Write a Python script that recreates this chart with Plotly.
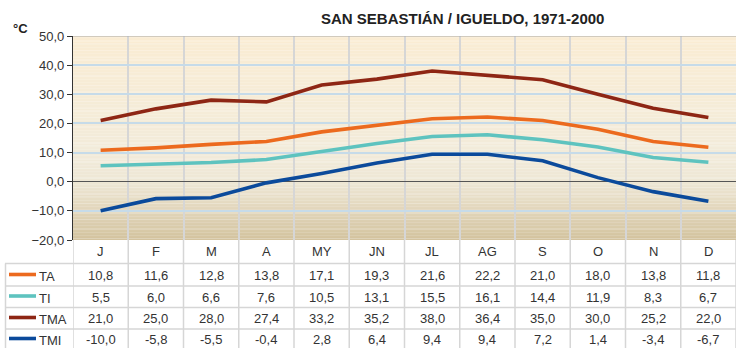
import plotly.graph_objects as go

# Monthly climatology, San Sebastián / Igueldo 1971-2000
months = ["J", "F", "M", "A", "MY", "JN", "JL", "AG", "S", "O", "N", "D"]
ta = [10.8, 11.6, 12.8, 13.8, 17.1, 19.3, 21.6, 22.2, 21.0, 18.0, 13.8, 11.8]
ti = [5.5, 6.0, 6.6, 7.6, 10.5, 13.1, 15.5, 16.1, 14.4, 11.9, 8.3, 6.7]
tma = [21.0, 25.0, 28.0, 27.4, 33.2, 35.2, 38.0, 36.4, 35.0, 30.0, 25.2, 22.0]
tmi = [-10.0, -5.8, -5.5, -0.4, 2.8, 6.4, 9.4, 9.4, 7.2, 1.4, -3.4, -6.7]

series_names = ["TA", "TI", "TMA", "TMI"]
series_values = [ta, ti, tma, tmi]
series_colors = ["#EC6A1E", "#5EC3BF", "#8E2614", "#0B4A9B"]

y_ticks = [-20, -10, 0, 10, 20, 30, 40, 50]

# pixel geometry of the page
W, H = 736, 348
ML, MR, MT, MB = 73, 0, 36, 108
PW, PH = W - ML - MR, H - MT - MB


def px_x(p):
    return (p - ML) / PW


def px_y(p):
    return (MT + PH - p) / PH


def fmt(v):
    return f"{v:.1f}".replace(".", ",")


x = list(range(len(months)))
fig = go.Figure()

for name, vals, col in zip(series_names, series_values, series_colors):
    fig.add_trace(go.Scatter(
        x=x, y=vals, mode="lines", name=name,
        line=dict(color=col, width=3.6),
        showlegend=False, hoverinfo="skip",
    ))

shapes = []

# vertical gradient behind the plot area
grad_stops = [(-20, (211, 195, 158)), (-10, (225, 213, 186)), (0, (238, 231, 213)),
              (10, (242, 235, 218)), (30, (246, 236, 215)), (50, (250, 236, 211))]


def grad_color(v):
    for (a, ca), (b, cb) in zip(grad_stops[:-1], grad_stops[1:]):
        if a <= v <= b:
            t = (v - a) / (b - a)
            c = [round(ca[i] + (cb[i] - ca[i]) * t) for i in range(3)]
            return f"rgb({c[0]},{c[1]},{c[2]})"
    return "rgb(250,236,211)"


step = 0.5
n_bands = int(70 / step)
for i in range(n_bands):
    y0 = -20 + i * step
    shapes.append(dict(type="rect", xref="paper", yref="y", x0=0, x1=1,
                       y0=y0, y1=y0 + step + 0.05, layer="below",
                       fillcolor=grad_color(y0 + step / 2), line=dict(width=0)))

# top border of the plot
shapes.append(dict(type="line", xref="paper", yref="y", x0=0, x1=1, y0=50, y1=50,
                   line=dict(color="#A8A8A8", width=1.2), layer="above"))

grid_gray = "#D6D6D6"
# table: vertical separators continue below the plot
for k in range(len(months) + 1):
    shapes.append(dict(type="line", xref="x", yref="paper", x0=k - 0.5, x1=k - 0.5,
                       y0=0, y1=px_y(352), line=dict(color=grid_gray, width=1.5)))
# table: row separators
row_lines = [263.5, 286, 307.5, 329]
for ly in row_lines:
    shapes.append(dict(type="line", xref="paper", yref="paper", x0=px_x(5), x1=1,
                       y0=px_y(ly), y1=px_y(ly), line=dict(color=grid_gray, width=1.5)))
# table: left border of the label column
shapes.append(dict(type="line", xref="paper", yref="paper", x0=px_x(5.5), x1=px_x(5.5),
                   y0=px_y(263.5), y1=px_y(352), line=dict(color=grid_gray, width=1.5)))

annotations = []
font_txt = dict(family="Liberation Sans, Arial, sans-serif", size=13, color="#333333")

# month header row
for k, m in enumerate(months):
    annotations.append(dict(x=k, y=px_y(251), xref="x", yref="paper", text=m,
                            showarrow=False, font=font_txt, xanchor="center", yanchor="middle"))

row_centers = [275.5, 297, 318.5, 339.5]
for name, vals, col, cy in zip(series_names, series_values, series_colors, row_centers):
    # legend key
    shapes.append(dict(type="line", xref="paper", yref="paper", x0=px_x(9), x1=px_x(36),
                       y0=px_y(cy - 1), y1=px_y(cy - 1), line=dict(color=col, width=3.6)))
    annotations.append(dict(x=px_x(37), y=px_y(cy + 1), xref="paper", yref="paper", text=name,
                            showarrow=False, font=font_txt, xanchor="left", yanchor="middle"))
    for k, v in enumerate(vals):
        annotations.append(dict(x=k, y=px_y(cy), xref="x", yref="paper", text=fmt(v),
                                showarrow=False, font=font_txt, xanchor="center", yanchor="middle"))

# title and unit
annotations.append(dict(x=px_x(462), y=px_y(18), xref="paper", yref="paper",
                        text="<b>SAN SEBASTIÁN / IGUELDO, 1971-2000</b>", showarrow=False,
                        font=dict(family="Liberation Sans, Arial, sans-serif", size=15, color="#222222"),
                        xanchor="center", yanchor="middle"))
annotations.append(dict(x=px_x(11), y=px_y(29), xref="paper", yref="paper",
                        text="<b>°C</b>", showarrow=False,
                        font=dict(family="Liberation Sans, Arial, sans-serif", size=13, color="#222222"),
                        xanchor="left", yanchor="middle"))

fig.update_layout(
    width=W, height=H,
    margin=dict(l=ML, r=MR, t=MT, b=MB, pad=0),
    paper_bgcolor="white", plot_bgcolor="white",
    separators=",.",
    shapes=shapes, annotations=annotations,
    xaxis=dict(range=[-0.5, len(months) - 0.5], tickmode="array",
               tickvals=[k - 0.5 for k in range(len(months) + 1)],
               showticklabels=False, ticks="", showgrid=True, gridcolor=grid_gray,
               gridwidth=1.5, zeroline=False, showline=False, fixedrange=True),
    yaxis=dict(range=[-20, 50], tickmode="array", tickvals=y_ticks, tickformat=".1f",
               showgrid=True, gridcolor="#C6DBE9", gridwidth=1.5,
               zeroline=True, zerolinecolor="#555555", zerolinewidth=1.2,
               showline=True, linecolor="#333333", linewidth=1.2,
               ticks="outside", ticklen=5, tickcolor="#333333", tickwidth=1.2,
               tickfont=dict(family="Liberation Sans, Arial, sans-serif", size=13, color="#333333"),
               fixedrange=True),
    font=dict(family="Liberation Sans, Arial, sans-serif"),
)

fig.write_html("out.html")
